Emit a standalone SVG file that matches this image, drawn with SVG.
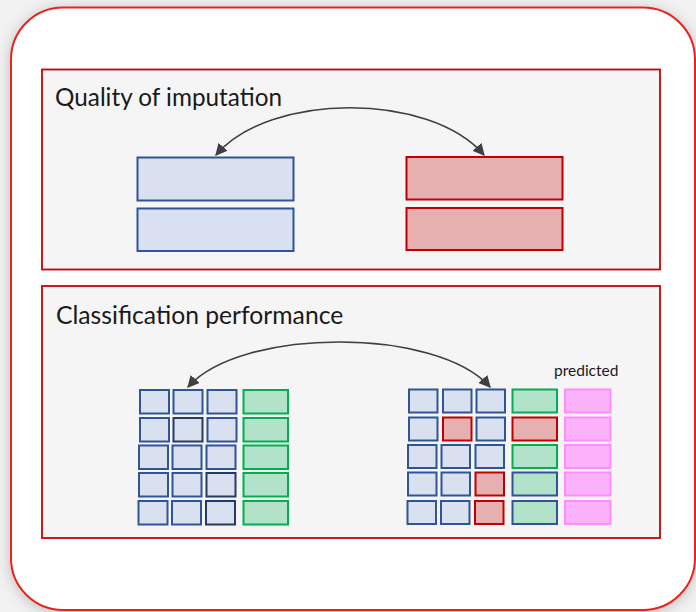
<svg xmlns="http://www.w3.org/2000/svg" width="696" height="612" viewBox="0 0 696 612">
<defs>
<style>
.title{font-family:Lato,"Open Sans","Liberation Sans",sans-serif;font-size:24.3px;fill:#1a1a1a}
.small{font-family:Lato,"Open Sans","Liberation Sans",sans-serif;font-size:15.5px;fill:#1a1a1a}
.panel{fill:#f5f5f5;stroke:#c80000;stroke-width:1.8}
.b{fill:#d9e0ef;stroke:#2f5597;stroke-width:2}
.bd{fill:#d9e0ef;stroke:#243b66;stroke-width:2}
.r{fill:#e7b0b0;stroke:#c00000;stroke-width:2}
.g{fill:#b2e2c9;stroke:#00b050;stroke-width:2}
.gb{fill:#b2e2c9;stroke:#2f5597;stroke-width:2}
.p{fill:#fbb2fb;stroke:#ff8cff;stroke-width:2}
.conn{fill:none;stroke:#404040;stroke-width:1.6}
</style>
<marker id="ah2" viewBox="0 0 10 10" refX="9" refY="5" markerWidth="12" markerHeight="12" orient="auto-start-reverse" markerUnits="userSpaceOnUse">
<path d="M0,0 L10,5 L0,10 z" fill="#404040"/>
</marker>
<filter id="sh" x="-10%" y="-10%" width="120%" height="120%">
<feDropShadow dx="0" dy="2" stdDeviation="7" flood-color="#000" flood-opacity="0.22"/>
</filter>
</defs>
<rect x="0" y="0" width="696" height="612" fill="#f2f2f2"/>
<g id="frame">
<rect x="11" y="7.5" width="684" height="602.5" rx="52" ry="52" fill="#ffffff" stroke="#e8231a" stroke-width="2" filter="url(#sh)"/>
</g>
<g id="quality">
<rect class="panel" x="42" y="69.5" width="618" height="200"/>
<text class="title" x="55" y="105.5">Quality of imputation</text>
</g>
<g id="q-blue">
<rect class="b" x="137.5" y="157.5" width="156" height="43"/>
<rect class="b" x="137.5" y="208.5" width="156" height="42.5"/>
</g>
<g id="q-red">
<rect class="r" x="406.5" y="157" width="156" height="42.5"/>
<rect class="r" x="406.5" y="208" width="156" height="42"/>
</g>
<g id="classification">
<rect class="panel" x="42" y="286" width="618" height="252"/>
<text class="title" x="56" y="323.5" style="font-size:24.7px">Classification performance</text>
<text class="small" x="554" y="375.5">predicted</text>
</g>
<g id="grid-left">
<rect class="b" x="140" y="390" width="29" height="23.5"/>
<rect class="b" x="173.5" y="390" width="29" height="23.5"/>
<rect class="b" x="207.5" y="390" width="29" height="23.5"/>
<rect class="g" x="243.5" y="390" width="44.5" height="23.5"/>
<rect class="b" x="140" y="418" width="29" height="23.5"/>
<rect class="bd" x="173.5" y="418" width="29" height="23.5"/>
<rect class="b" x="207.5" y="418" width="29" height="23.5"/>
<rect class="g" x="243.5" y="418" width="44.5" height="23.5"/>
<rect class="b" x="139" y="445.5" width="29" height="23.5"/>
<rect class="b" x="172.5" y="445.5" width="29" height="23.5"/>
<rect class="b" x="206.5" y="445.5" width="29" height="23.5"/>
<rect class="g" x="243.5" y="445.5" width="44.5" height="23.5"/>
<rect class="b" x="139" y="473" width="29" height="23.5"/>
<rect class="b" x="172.5" y="473" width="29" height="23.5"/>
<rect class="bd" x="206.5" y="473" width="29" height="23.5"/>
<rect class="g" x="243.5" y="473" width="44.5" height="23.5"/>
<rect class="b" x="138.5" y="501" width="29" height="23.5"/>
<rect class="b" x="172" y="501" width="29" height="23.5"/>
<rect class="bd" x="206" y="501" width="29" height="23.5"/>
<rect class="g" x="243.5" y="501" width="44.5" height="23.5"/>
</g>
<g id="grid-right">
<rect class="b" x="409" y="389.5" width="28.5" height="23"/>
<rect class="b" x="443" y="389.5" width="28.5" height="23"/>
<rect class="b" x="476.5" y="389.5" width="28.5" height="23"/>
<rect class="g" x="512.5" y="389.5" width="44.5" height="23"/>
<rect class="p" x="565" y="389.5" width="45.5" height="23"/>
<rect class="b" x="409" y="417.5" width="28.5" height="23"/>
<rect class="r" x="443" y="417.5" width="28.5" height="23"/>
<rect class="b" x="476.5" y="417.5" width="28.5" height="23"/>
<rect class="r" x="512.5" y="417.5" width="44.5" height="23"/>
<rect class="p" x="565" y="417.5" width="45.5" height="23"/>
<rect class="b" x="408" y="445" width="28.5" height="23"/>
<rect class="b" x="441.5" y="445" width="28.5" height="23"/>
<rect class="b" x="475.5" y="445" width="28.5" height="23"/>
<rect class="g" x="512.5" y="445" width="44.5" height="23"/>
<rect class="p" x="565" y="445" width="45.5" height="23"/>
<rect class="b" x="408" y="472.5" width="28.5" height="23"/>
<rect class="b" x="441.5" y="472.5" width="28.5" height="23"/>
<rect class="r" x="475.5" y="472.5" width="28.5" height="23"/>
<rect class="gb" x="512.5" y="472.5" width="44.5" height="23"/>
<rect class="p" x="565" y="472.5" width="45.5" height="23"/>
<rect class="b" x="407.5" y="501" width="28.5" height="23"/>
<rect class="b" x="441" y="501" width="28.5" height="23"/>
<rect class="r" x="475" y="501" width="28.5" height="23"/>
<rect class="gb" x="512.5" y="501" width="44.5" height="23"/>
<rect class="p" x="565" y="501" width="45.5" height="23"/>
</g>
<g id="connectors">
<path class="conn" d="M216,155 C270,92 430,92 484,155" marker-start="url(#ah2)" marker-end="url(#ah2)"/>
<path class="conn" d="M188,387 C241,327 437,327 490,387" marker-start="url(#ah2)" marker-end="url(#ah2)"/>
</g>
</svg>
